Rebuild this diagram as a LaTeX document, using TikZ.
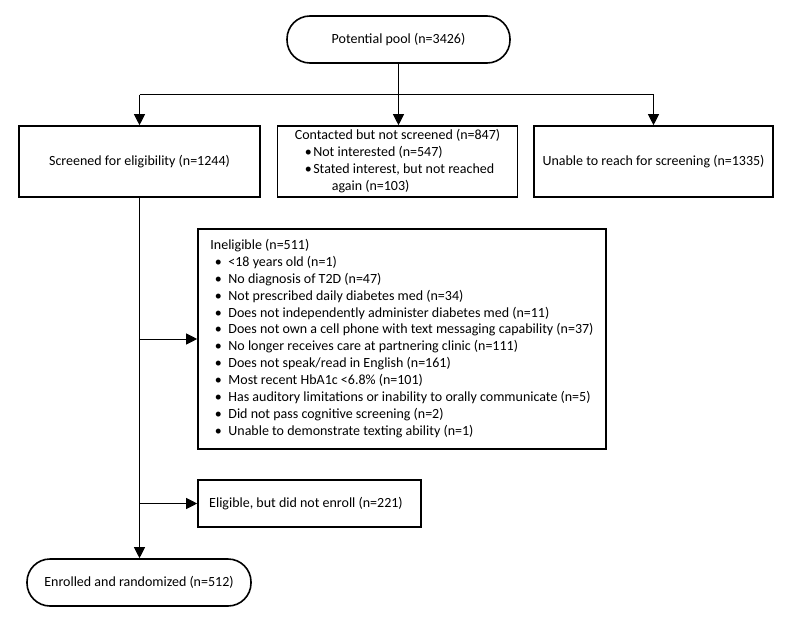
\documentclass[tikz,border=0pt]{standalone}
\usepackage{fontspec}
\setmainfont{Carlito}
\usetikzlibrary{arrows.meta}
\newcommand\ibul{\hspace*{4.5pt}\makebox[13.5pt][l]{•}}
\newcommand\cbul{\hspace*{10pt}\makebox[8.5pt][l]{•}}
\begin{document}
\begin{tikzpicture}[x=1pt,y=-1pt,
  every node/.style={font=\fontsize{14}{16.9}\selectfont},
  box/.style={draw, line width=1.6pt, inner sep=0pt, align=center},
  stad/.style={box, rounded corners=23pt},
  conn/.style={line width=1pt},
  arr/.style={conn, -{Triangle[width=11pt,length=11pt]}}]
\useasboundingbox (0,0) rectangle (800,623);

\node[stad, minimum width=223pt, minimum height=47pt] (pool) at (398.5,39.5) {Potential pool (n=3426)};
\node[box, minimum width=241pt, minimum height=71pt] (screen) at (139.5,161.5) {Screened for eligibility (n=1244)};
\node[box, minimum width=240pt, minimum height=71pt] (contact) at (397.5,161.5) {\begin{tabular}{@{}l@{}}
Contacted but not screened (n=847)\\
\cbul Not interested (n=547)\\
\cbul Stated interest, but not reached\\
\hspace*{37pt}again (n=103)
\end{tabular}};
\node[box, minimum width=239pt, minimum height=71pt] (unable) at (653.5,161.5) {Unable to reach for screening (n=1335)};
\node[box, minimum width=408pt, minimum height=220pt] (inel) at (402,339) {\begin{tabular}{@{}l@{}}
Ineligible (n=511)\\
\ibul <18 years old (n=1)\\
\ibul No diagnosis of T2D (n=47)\\
\ibul Not prescribed daily diabetes med (n=34)\\
\ibul Does not independently administer diabetes med (n=11)\\
\ibul Does not own a cell phone with text messaging capability (n=37)\\
\ibul No longer receives care at partnering clinic (n=111)\\
\ibul Does not speak/read in English (n=161)\\
\ibul Most recent HbA1c <6.8\% (n=101)\\
\ibul Has auditory limitations or inability to orally communicate (n=5)\\
\ibul Did not pass cognitive screening (n=2)\\
\ibul Unable to demonstrate texting ability (n=1)
\end{tabular}};
\node[box, minimum width=223pt, minimum height=47pt] (elig) at (309.5,503.5) {Eligible, but did not enroll (n=221)\hspace*{7pt}};
\node[stad, minimum width=224pt, minimum height=47pt] (enr) at (139,582.5) {Enrolled and randomized (n=512)};

\coordinate (split) at (398.5,95);
\draw[arr] (pool.south) -- (pool.south |- contact.north);
\draw[conn] (split -| screen.north) -- (split -| unable.north);
\draw[arr] (split -| screen.north) -- (screen.north);
\draw[arr] (split -| unable.north) -- (unable.north);
\draw[arr] (screen.south) -- (screen.south |- enr.north);
\draw[arr] (screen.south |- inel.west) -- (inel.west);
\draw[arr] (screen.south |- elig.west) -- (elig.west);
\end{tikzpicture}
\end{document}
